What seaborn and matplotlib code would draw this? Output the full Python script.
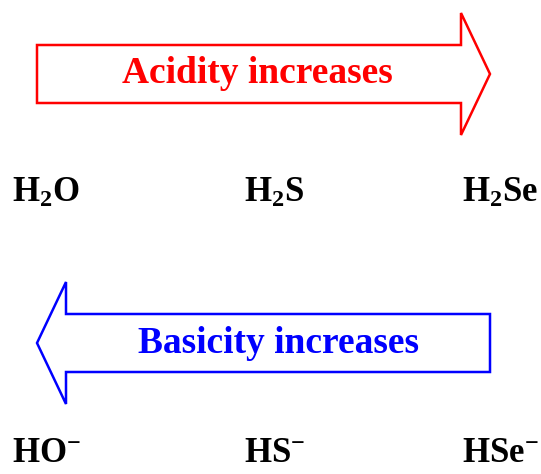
import matplotlib
matplotlib.use("Agg")
import matplotlib.pyplot as plt
from matplotlib.patches import FancyArrow
import seaborn as sns

# data
acids = [r"$\mathbf{H_2O}$", r"$\mathbf{H_2S}$", r"$\mathbf{H_2Se}$"]
bases = [r"$\mathbf{HO^{-}}$", r"$\mathbf{HS^{-}}$", r"$\mathbf{HSe^{-}}$"]
label_x = [12, 244, 462]
arrow_texts = ["Acidity increases", "Basicity increases"]
arrow_colors = ["#ff0000", "#0000ff"]

sns.set_theme(style="white")
plt.rcParams["font.family"] = ["Liberation Serif", "DejaVu Serif"]
plt.rcParams["mathtext.fontset"] = "custom"
plt.rcParams["mathtext.bf"] = "Liberation Serif:bold"
plt.rcParams["mathtext.rm"] = "Liberation Serif"

fig = plt.figure(figsize=(5.41, 4.74), dpi=100)
ax = fig.add_axes([0, 0, 1, 1])
ax.set_xlim(0, 541)
ax.set_ylim(474, 0)
ax.axis("off")

# arrows: (start x, center y, dx)
arrows = [(37, 74, 453), (490, 343, -453)]
for (x0, yc, dx), col in zip(arrows, arrow_colors):
    ax.add_patch(FancyArrow(x0, yc, dx, 0, width=58, head_width=122,
                            head_length=29, length_includes_head=True,
                            fc="white", ec=col, lw=1.8, joinstyle="miter"))

ax.text(257, 83, arrow_texts[0], color=arrow_colors[0], fontsize=27,
        fontweight="bold", ha="center", va="baseline")
ax.text(278, 353, arrow_texts[1], color=arrow_colors[1], fontsize=27,
        fontweight="bold", ha="center", va="baseline")

for x, a, b in zip(label_x, acids, bases):
    ax.text(x, 202, a, fontsize=25, ha="left", va="baseline", color="black")
    ax.text(x, 462, b, fontsize=25, ha="left", va="baseline", color="black")

fig.savefig("out.png", dpi=100)
